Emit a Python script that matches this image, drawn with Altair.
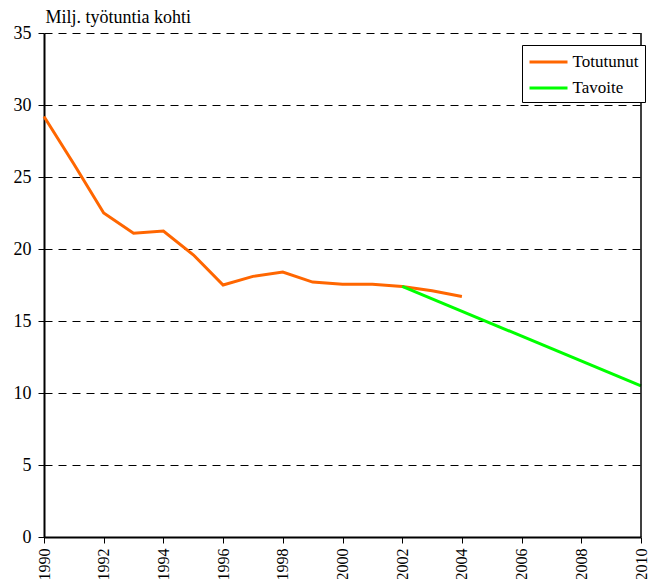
import altair as alt
import pandas as pd

years_actual = [1990, 1991, 1992, 1993, 1994, 1995, 1996, 1997, 1998, 1999, 2000, 2001, 2002, 2003, 2004]
values_actual = [29.2, 25.9, 22.5, 21.1, 21.25, 19.6, 17.5, 18.1, 18.4, 17.7, 17.55, 17.55, 17.4, 17.1, 16.7]
years_target = [2002, 2010]
values_target = [17.4, 10.5]
series_names = ["Totutunut", "Tavoite"]
series_colors = ["#FF6600", "#00FF00"]
y_ticks = [0, 5, 10, 15, 20, 25, 30, 35]
x_ticks = list(range(1990, 2011))

df = pd.DataFrame(
    [{"vuosi": y, "arvo": v, "sarja": series_names[0]} for y, v in zip(years_actual, values_actual)]
    + [{"vuosi": y, "arvo": v, "sarja": series_names[1]} for y, v in zip(years_target, values_target)]
)

FONT = "Times New Roman, Liberation Serif, serif"

lines = alt.Chart(df).mark_line(strokeWidth=3).encode(
    x=alt.X(
        "vuosi:Q",
        scale=alt.Scale(domain=[1990, 2010], nice=False, zero=False),
        axis=alt.Axis(
            values=x_ticks,
            format="d",
            labelExpr="datum.value % 2 == 0 ? datum.label : ''",
            labelAngle=270,
            labelAlign="right",
            labelBaseline="middle",
            labelPadding=5,
            tickSize=6,
            tickColor="black",
            domainColor="black",
            domainWidth=2,
            grid=False,
            title=None,
            labelFont=FONT,
            labelFontSize=16,
            labelColor="black",
        ),
    ),
    y=alt.Y(
        "arvo:Q",
        scale=alt.Scale(domain=[0, 35], nice=False),
        axis=alt.Axis(
            values=y_ticks,
            tickSize=6,
            tickColor="black",
            domainColor="black",
            domainWidth=2,
            grid=True,
            gridColor="black",
            gridDash=[8, 6],
            gridWidth=1,
            labelPadding=7,
            labelFont=FONT,
            labelFontSize=18,
            labelColor="black",
            title="Milj. työtuntia kohti",
            titleAngle=0,
            titleX=1,
            titleY=-11,
            titleAlign="left",
            titleBaseline="alphabetic",
            titleFont=FONT,
            titleFontSize=18,
            titleFontWeight="normal",
            titleColor="black",
        ),
    ),
    color=alt.Color(
        "sarja:N",
        scale=alt.Scale(domain=series_names, range=series_colors),
        sort=series_names,
        legend=alt.Legend(
            title=None,
            orient="none",
            legendX=478,
            legendY=12,
            symbolType="M-2,0H2",
            symbolSize=361,
            symbolStrokeWidth=3,
            symbolOffset=9.5,
            labelOffset=13,
            labelFont=FONT,
            labelFontSize=17,
            labelColor="black",
            strokeColor="black",
            fillColor="white",
            padding=6,
            rowPadding=7,
        ),
    ),
    detail="sarja:N",
)

border = alt.Chart(pd.DataFrame({"x": [2010]})).mark_rule(color="black", strokeWidth=1.5).encode(
    x="x:Q"
)

chart = (
    alt.layer(lines, border)
    .properties(
        width=597,
        height=504,
        autosize=alt.AutoSizeParams(type="none"),
        padding={"left": 36, "top": 25, "right": 8, "bottom": 42},
    )
    .configure_view(stroke=None)
)

chart.save("out.html", embed_options={"renderer": "svg", "actions": False})
